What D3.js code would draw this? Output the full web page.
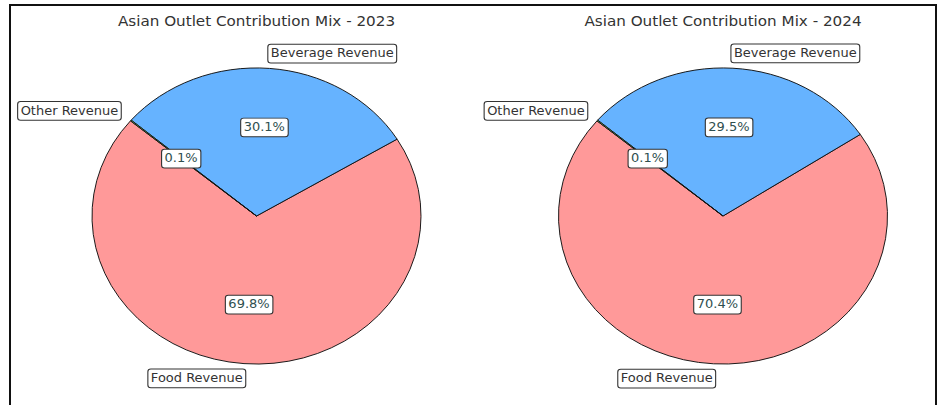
<!DOCTYPE html>
<html>
<head>
<meta charset="utf-8">
<script src="https://cdn.jsdelivr.net/npm/d3@7"></script>
<style>
  html, body { margin: 0; padding: 0; background: #fff; }
  svg { display: block; font-family: "DejaVu Sans", sans-serif; }
</style>
</head>
<body>
<svg id="chart" width="939" height="405"></svg>
<script>
// Revenue mix per outlet year (percent of total)
const categories = ["Food Revenue", "Beverage Revenue", "Other Revenue"];
const years = ["2023", "2024"];
const values2023 = [69.8, 30.1, 0.1];
const values2024 = [70.4, 29.5, 0.1];
const sliceColors = ["#ff9999", "#66b3ff", "#99ff99"];
const titlePrefix = "Asian Outlet Contribution Mix - ";

const W = 939, H = 405;
const yScale = 0.9;            // figure is drawn slightly compressed vertically
const radius = 164.5;
const centersX = [256.5, 723];
const centerY = 240;
const labelDistance = 1.1;
const pctDistance = 0.6;

const svg = d3.select("#chart");

// outer frame
svg.append("rect")
  .attr("x", 10).attr("y", 5)
  .attr("width", 926).attr("height", 430)
  .attr("fill", "none")
  .attr("stroke", "#111")
  .attr("stroke-width", 2);

const root = svg.append("g").attr("transform", `scale(1,${yScale})`);

// start at 140° counter-clockwise from east, sweep counter-clockwise
const start = (90 - 140) * Math.PI / 180;
const pie = d3.pie().sort(null).value(d => d.value)
  .startAngle(start).endAngle(start - 2 * Math.PI);
const arc = d3.arc().innerRadius(0).outerRadius(radius);

const color = d3.scaleOrdinal().domain(categories).range(sliceColors);

function boxed(g, pad) {
  g.each(function () {
    const t = d3.select(this).select("text");
    const b = t.node().getBBox();
    d3.select(this).insert("rect", "text")
      .attr("x", b.x - pad).attr("y", b.y - pad)
      .attr("width", b.width + 2 * pad).attr("height", b.height + 2 * pad)
      .attr("rx", 3).attr("ry", 3)
      .attr("fill", "#fff")
      .attr("stroke", "#333")
      .attr("stroke-width", 1.1);
  });
}

[values2023, values2024].forEach((vals, i) => {
  const data = categories.map((c, k) => ({ name: c, value: vals[k] }));
  const arcs = pie(data);
  const g = root.append("g").attr("transform", `translate(${centersX[i]},${centerY})`);

  g.selectAll("path.slice").data(arcs).join("path")
    .attr("class", "slice")
    .attr("d", arc)
    .attr("fill", d => color(d.data.name))
    .attr("stroke", "#111")
    .attr("stroke-width", 1);

  const mid = d => (d.startAngle + d.endAngle) / 2;

  // category labels outside the pie
  const lab = g.selectAll("g.lab").data(arcs).join("g").attr("class", "lab");
  lab.append("text")
    .attr("x", d => radius * labelDistance * Math.sin(mid(d)))
    .attr("y", d => -radius * labelDistance * Math.cos(mid(d)))
    .attr("text-anchor", d => Math.sin(mid(d)) > 0 ? "start" : "end")
    .attr("dominant-baseline", "central")
    .attr("font-size", 13)
    .attr("fill", "#333")
    .text(d => d.data.name);
  boxed(lab, 3);

  // percentage labels inside
  const pct = g.selectAll("g.pct").data(arcs).join("g").attr("class", "pct");
  pct.append("text")
    .attr("x", d => radius * pctDistance * Math.sin(mid(d)))
    .attr("y", d => -radius * pctDistance * Math.cos(mid(d)))
    .attr("text-anchor", "middle")
    .attr("dominant-baseline", "central")
    .attr("font-size", 13)
    .attr("fill", "#2f4f4f")
    .text(d => d.data.value.toFixed(1) + "%");
  boxed(pct, 3);

  root.append("text")
    .attr("x", centersX[i])
    .attr("y", 29)
    .attr("text-anchor", "middle")
    .attr("font-size", 15.2)
    .attr("fill", "#333")
    .text(titlePrefix + years[i]);
});
</script>
</body>
</html>
